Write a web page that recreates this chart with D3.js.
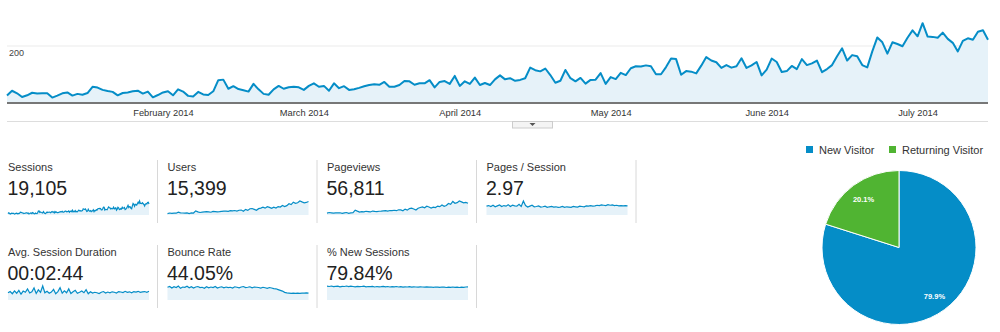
<!DOCTYPE html>
<html><head><meta charset="utf-8">
<script src="https://cdn.jsdelivr.net/npm/d3@7"></script>
<style>
body{margin:0;background:#fff}
svg{display:block;font-family:"Liberation Sans",Arial,sans-serif}
</style>
</head><body>
<svg id="c" width="1000" height="332"></svg>
<script>
// Daily sessions, 1 Jan 2014 – 15 Jul 2014
const firstDay = new Date(2014, 0, 1);
const sessions = [
  26,43,34,21,27,36,33,34,34,19, 26,34,37,26,32,29,35,57,54,46,
  42,39,27,35,37,41,43,33,40,20, 28,37,41,27,48,40,25,23,39,30,
  28,41,80,82,50,59,49,45,40,67, 48,32,29,48,60,50,55,57,55,46,
  60,69,57,60,43,69,52,59,46,48, 53,59,63,66,64,74,57,57,63,77,
  76,64,69,69,80,55,74,77,67,95, 60,76,67,89,63,70,63,83,97,83,
  87,78,81,87,124,115,111,121,98,71, 78,116,87,76,88,68,81,82,105,67,
  91,84,106,98,122,129,128,132,129,101, 101,126,156,154,99,112,110,104,131,161,
  149,143,123,133,124,129,157,123,132,144, 97,117,156,144,109,112,130,119,154,
  133,139,149,108,119,133,164,192,149,168, 164,133,125,181,230,213,173,213,207,199,
  229,255,234,280,233,232,229,247,225,211, 181,218,227,222,250,255,222
];
const monthTicks = [new Date(2014,1,1), new Date(2014,2,1), new Date(2014,3,1),
                    new Date(2014,4,1), new Date(2014,5,1), new Date(2014,6,1)];
const yTicks = [200];

// Scorecards
const metricNames  = ["Sessions","Users","Pageviews","Pages / Session",
                      "Avg. Session Duration","Bounce Rate","% New Sessions"];
const metricTotals = ["19,105","15,399","56,811","2.97","00:02:44","44.05%","79.84%"];

// Sparkline series (sampled every third day)
const users = [22,30,25,28,27,44,33,30,29,32,22,31,30,62,48,38,44,47,50,48,42,55,52,46,50,55,58,60,56,65,62,68,60,72,75,58,85,70,95,98,85,72,96,105,118,104,125,116,100,118,106,128,120,145,128,142,170,158,195,178,185,212,198,185,190,205];
const pageviews = [85,110,95,80,90,100,98,75,95,110,70,92,100,215,170,130,150,140,165,150,135,175,160,150,165,170,185,190,175,200,195,210,190,230,225,185,260,215,285,300,265,220,300,330,360,320,390,355,310,350,330,395,370,440,385,420,510,470,600,520,545,620,580,540,560,520];
const pagesPerSession = [2.9,3.1,2.8,3.2,2.7,3.0,3.3,2.8,3.1,2.9,3.4,2.8,3.2,3.0,2.9,3.5,2.8,4.6,3.1,2.6,2.9,3.2,2.7,2.8,3.0,2.6,2.7,2.9,2.5,2.7,2.8,2.6,2.7,2.5,2.6,2.8,2.5,2.7,2.6,2.5,2.8,2.7,2.6,2.9,2.8,2.7,3.0,2.9,3.1,2.9,3.0,3.2,3.1,3.3,3.2,3.1,3.4,3.2,3.3,3.1,3.2,3.0,3.1,3.0,3.1,3.0];
const avgDuration = [150,175,130,190,140,200,120,185,160,230,145,170,250,135,210,160,290,150,180,140,165,220,130,175,255,140,190,150,230,135,170,200,140,160,185,150,215,130,170,145,160,150,135,160,175,145,165,150,170,160,145,175,165,155,180,160,170,150,175,165,180,160,170,175,160,180];
const bounceRate = [50,53,47,52,49,55,46,51,50,54,48,52,47,51,53,49,50,46,52,48,51,49,53,47,50,52,48,51,49,50,47,52,50,48,51,53,49,50,52,48,51,50,49,47,50,48,46,49,47,45,44,41,38,35,30,28,27,26,27,26,27,26,27,27,28,27];
const newSessionsPct = [84,82,85,81,83,84,80,83,82,85,81,84,82,80,83,81,82,84,80,82,81,83,79,82,80,81,83,80,82,79,81,80,82,79,81,78,80,79,81,78,80,79,78,80,79,78,80,78,79,77,79,78,77,79,78,76,78,77,79,77,78,76,78,77,79,80];
const metricSeries = [sessions, users, pageviews, pagesPerSession, avgDuration, bounceRate, newSessionsPct];

// Visitor type split
const visitorTypes = ["New Visitor","Returning Visitor"];
const visitorShare = [79.9, 20.1];

const BLUE = "#058dc7", GREEN = "#50b432", FILL = "#e6f2f9";
const svg = d3.select("#c");

// ---------- main timeline ----------
const days = sessions.map((v, i) => ({date: d3.timeDay.offset(firstDay, i), v}));
const x = d3.scaleTime().domain(d3.extent(days, d => d.date)).range([7, 988]);
const y = d3.scaleLinear().domain([0, 200]).range([103, 46]);

svg.append("g").selectAll("line").data(yTicks).join("line")
  .attr("x1", 7).attr("x2", 988).attr("y1", d => y(d)).attr("y2", d => y(d))
  .attr("stroke", "#ebebeb");
svg.append("g").selectAll("text").data(yTicks).join("text")
  .attr("x", 9).attr("y", d => y(d) + 10).attr("font-size", 9).attr("fill", "#444")
  .text(d => d);

svg.append("path").datum(days)
  .attr("fill", FILL)
  .attr("d", d3.area().x(d => x(d.date)).y0(y(0)).y1(d => y(d.v)));
svg.append("path").datum(days)
  .attr("fill", "none").attr("stroke", BLUE).attr("stroke-width", 2).attr("stroke-linejoin", "round")
  .attr("d", d3.line().x(d => x(d.date)).y(d => y(d.v)));

const xAxis = svg.append("g").attr("transform", `translate(0,${y(0)})`)
  .call(d3.axisBottom(x).tickValues(monthTicks).tickFormat(d3.timeFormat("%B %Y")).tickSize(0));
xAxis.select(".domain").remove();
xAxis.selectAll("text").attr("font-size", 9.3).attr("fill", "#333").attr("font-family", null)
  .attr("dy", "0.71em").attr("y", 6);
svg.append("line").attr("x1", 7).attr("x2", 988).attr("y1", y(0)).attr("y2", y(0))
  .attr("stroke", "#777").attr("stroke-width", 2);

// separator with collapse tab
svg.append("line").attr("x1", 7).attr("x2", 988).attr("y1", 121.5).attr("y2", 121.5).attr("stroke", "#ddd");
svg.append("rect").attr("x", 512.5).attr("y", 121.5).attr("width", 40).attr("height", 6.5)
  .attr("fill", "#f4f4f4").attr("stroke", "#ccc");
svg.append("path").attr("d", "M529.5,123 L535.5,123 L532.5,126 Z").attr("fill", "#555");

// ---------- scorecards ----------
const cardW = 159.5, sparkW = 141, sparkH = 14;
metricNames.forEach((name, i) => {
  const row = i < 4 ? 0 : 1, col = i < 4 ? i : i - 4;
  const left = 8 + col * cardW, top = 160 + row * 85;
  const g = svg.append("g");
  g.append("text").attr("x", left).attr("y", top + 10.5).attr("font-size", 11).attr("fill", "#333").text(name);
  g.append("text").attr("x", left - 0.5).attr("y", top + 35).attr("font-size", 19.5).attr("fill", "#222").text(metricTotals[i]);
  const series = metricSeries[i];
  const sx = d3.scaleLinear().domain([0, series.length - 1]).range([left, left + sparkW]);
  const bottom = top + 55;
  const sy = d3.scaleLinear().domain([0, d3.max(series)]).range([bottom, bottom - sparkH]);
  g.append("path").datum(series).attr("fill", FILL)
    .attr("d", d3.area().x((d, j) => sx(j)).y0(bottom).y1(d => sy(d)));
  g.append("path").datum(series).attr("fill", "none").attr("stroke", BLUE).attr("stroke-width", 1.2)
    .attr("d", d3.line().x((d, j) => sx(j)).y(d => sy(d)));
  if (row === 0 || col < 3) {
    g.append("line").attr("x1", left + 149.5).attr("x2", left + 149.5)
      .attr("y1", top).attr("y2", top + 63).attr("stroke", "#d8d8d8");
  }
});

// ---------- visitor pie ----------
const colors = d3.scaleOrdinal().domain(visitorTypes).range([BLUE, GREEN]);
const pieData = d3.pie().sort(null).value(d => d.v)(visitorTypes.map((name, i) => ({name, v: visitorShare[i]})));
const R = 77;
const pg = svg.append("g").attr("transform", "translate(899,247.5)");
pg.selectAll("path").data(pieData).join("path")
  .attr("d", d3.arc().innerRadius(0).outerRadius(R))
  .attr("fill", d => colors(d.data.name)).attr("stroke", "#fff").attr("stroke-width", 1);
const labelArc = d3.arc().innerRadius(60).outerRadius(60);
pg.selectAll("text").data(pieData).join("text")
  .attr("transform", d => `translate(${labelArc.centroid(d)})`)
  .attr("text-anchor", "middle").attr("dy", "0.35em")
  .attr("font-size", 7.5).attr("font-weight", "bold").attr("fill", "#fff")
  .text(d => d.data.v.toFixed(1) + "%");

// legend
const lg = svg.append("g");
const legendX = [806, 889];
visitorTypes.forEach((t, i) => {
  lg.append("rect").attr("x", legendX[i]).attr("y", 146).attr("width", 7).attr("height", 7).attr("fill", colors(t));
  lg.append("text").attr("x", legendX[i] + 13).attr("y", 153.5).attr("font-size", 11).attr("fill", "#333").text(t);
});
</script>
</body></html>
